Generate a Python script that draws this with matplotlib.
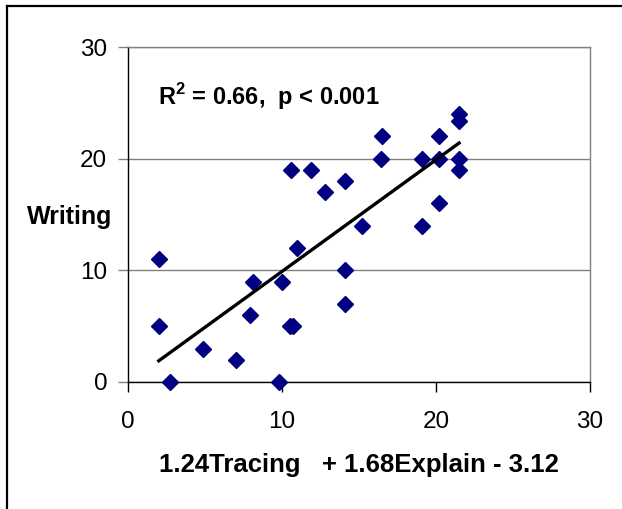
import numpy as np
import matplotlib
matplotlib.use("Agg")
import matplotlib.pyplot as plt
from matplotlib.lines import Line2D

plt.rcParams['font.family'] = ['Liberation Sans', 'DejaVu Sans']
plt.rcParams['mathtext.fontset'] = 'custom'
plt.rcParams['mathtext.bf'] = 'Liberation Sans:bold'
plt.rcParams['mathtext.rm'] = 'Liberation Sans:bold'

# predicted score (x) vs Writing (y)
tracing_explain = [2.0, 2.0, 2.7, 4.9, 7.0, 7.9, 8.1, 9.8, 10.0, 10.5, 10.7,
                   11.0, 10.6, 11.9, 12.8, 14.1, 14.1, 14.1, 15.2, 16.5,
                   16.4, 19.1, 19.1, 20.2, 20.2, 20.2, 21.5, 21.5, 21.5, 21.5]
writing = [11, 5, 0, 3, 2, 6, 9, 0, 9, 5, 5,
           12, 19, 19, 17, 18, 10, 7, 14, 22,
           20, 20, 14, 22, 20, 16, 24, 23.4, 20, 19]

# trend line as drawn in the picture
fit_slope = 1.0
fit_intercept = -0.1

x_ticks = [0, 10, 20, 30]
y_ticks = [0, 10, 20, 30]

fig = plt.figure(figsize=(6.22, 5.09), dpi=100)
ax = fig.add_axes([128/622, 1 - 382/509, (590-128)/622, (382-47)/509])

ax.plot(tracing_explain, writing, linestyle='none', marker='D', ms=8,
        color='#000080', zorder=3, clip_on=False)

xs = np.array([min(tracing_explain), max(tracing_explain)])
ax.plot(xs, fit_slope * xs + fit_intercept, color='black', lw=2.4, zorder=4)

ax.set_xlim(0, 30)
ax.set_ylim(0, 30)
ax.set_xticks(x_ticks)
ax.set_yticks(y_ticks)
ax.tick_params(axis='both', labelsize=17.5, direction='out', length=7,
               width=1)
ax.tick_params(axis='y', colors='#808080', labelcolor='black', pad=8)
ax.tick_params(axis='x', pad=14)
ax.yaxis.grid(True, color='#808080', lw=1)
ax.set_axisbelow(True)

for s in ['top', 'right']:
    ax.spines[s].set_color('#808080')
    ax.spines[s].set_linewidth(1)
for s in ['left', 'bottom']:
    ax.spines[s].set_color('black')
    ax.spines[s].set_linewidth(1)

ax.text(30/462, 1 - 50/335, r'R$^{\mathbf{2}}$ = 0.66,  p < 0.001', transform=ax.transAxes,
        fontsize=17, fontweight='bold', va='center', ha='left')

fig.text(112/622, 1 - 217/509, 'Writing', fontsize=18, fontweight='bold',
         ha='right', va='center')
fig.text(358.5/622, 1 - 465/509, '1.24Tracing   + 1.68Explain - 3.12',
         fontsize=18.5, fontweight='bold', ha='center', va='center')

# outer frame (cropped)
fig.add_artist(Line2D([7/622, 1], [1 - 6/509, 1 - 6/509], color='black', lw=1.6,
                      transform=fig.transFigure))
fig.add_artist(Line2D([7/622, 7/622], [0, 1 - 6/509], color='black', lw=1.6,
                      transform=fig.transFigure))

fig.savefig('out.png', dpi=100)
